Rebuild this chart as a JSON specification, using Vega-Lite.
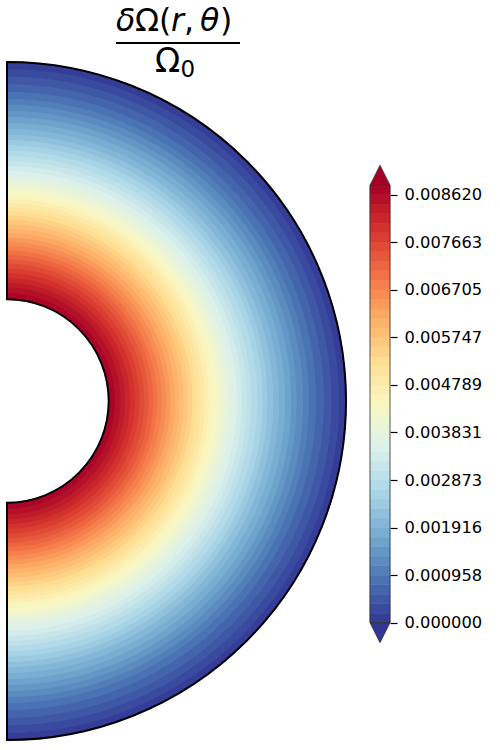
{
  "$schema": "https://vega.github.io/schema/vega-lite/v6.json",
  "padding": 0,
  "spacing": 20,
  "bounds": "flush",
  "background": "white",
  "config": {"view": {"stroke": null}},
  "datasets": {
    "bands": [
      {"lo": 0, "hi": 0.000191563, "v": 0.0000958, "ri": 0.9779, "ro": 1.0},
      {"lo": 0.000191563, "hi": 0.000383126, "v": 0.0002873, "ri": 0.9556, "ro": 0.9779},
      {"lo": 0.000383126, "hi": 0.000574689, "v": 0.0004789, "ri": 0.9330, "ro": 0.9556},
      {"lo": 0.000574689, "hi": 0.000766252, "v": 0.0006705, "ri": 0.9103, "ro": 0.9330},
      {"lo": 0.000766252, "hi": 0.000957815, "v": 0.0008620, "ri": 0.8892, "ro": 0.9103},
      {"lo": 0.000957815, "hi": 0.001149378, "v": 0.0010536, "ri": 0.8722, "ro": 0.8892},
      {"lo": 0.001149378, "hi": 0.001340941, "v": 0.0012452, "ri": 0.8545, "ro": 0.8722},
      {"lo": 0.001340941, "hi": 0.001532504, "v": 0.0014367, "ri": 0.8368, "ro": 0.8545},
      {"lo": 0.001532504, "hi": 0.001724067, "v": 0.0016283, "ri": 0.8189, "ro": 0.8368},
      {"lo": 0.001724067, "hi": 0.00191563, "v": 0.0018198, "ri": 0.8009, "ro": 0.8189},
      {"lo": 0.00191563, "hi": 0.002107193, "v": 0.0020114, "ri": 0.7839, "ro": 0.8009},
      {"lo": 0.002107193, "hi": 0.002298756, "v": 0.0022030, "ri": 0.7685, "ro": 0.7839},
      {"lo": 0.002298756, "hi": 0.002490319, "v": 0.0023945, "ri": 0.7529, "ro": 0.7685},
      {"lo": 0.002490319, "hi": 0.002681882, "v": 0.0025861, "ri": 0.7372, "ro": 0.7529},
      {"lo": 0.002681882, "hi": 0.002873445, "v": 0.0027776, "ri": 0.7215, "ro": 0.7372},
      {"lo": 0.002873445, "hi": 0.003065008, "v": 0.0029692, "ri": 0.7067, "ro": 0.7215},
      {"lo": 0.003065008, "hi": 0.003256571, "v": 0.0031608, "ri": 0.6920, "ro": 0.7067},
      {"lo": 0.003256571, "hi": 0.003448134, "v": 0.0033523, "ri": 0.6773, "ro": 0.6920},
      {"lo": 0.003448134, "hi": 0.003639697, "v": 0.0035439, "ri": 0.6625, "ro": 0.6773},
      {"lo": 0.003639697, "hi": 0.00383126, "v": 0.0037354, "ri": 0.6479, "ro": 0.6625},
      {"lo": 0.00383126, "hi": 0.004022823, "v": 0.0039270, "ri": 0.6342, "ro": 0.6479},
      {"lo": 0.004022823, "hi": 0.004214386, "v": 0.0041186, "ri": 0.6204, "ro": 0.6342},
      {"lo": 0.004214386, "hi": 0.004405949, "v": 0.0043101, "ri": 0.6066, "ro": 0.6204},
      {"lo": 0.004405949, "hi": 0.004597512, "v": 0.0045017, "ri": 0.5938, "ro": 0.6066},
      {"lo": 0.004597512, "hi": 0.004789075, "v": 0.0046932, "ri": 0.5820, "ro": 0.5938},
      {"lo": 0.004789075, "hi": 0.004980638, "v": 0.0048848, "ri": 0.5700, "ro": 0.5820},
      {"lo": 0.004980638, "hi": 0.005172201, "v": 0.0050764, "ri": 0.5581, "ro": 0.5700},
      {"lo": 0.005172201, "hi": 0.005363764, "v": 0.0052679, "ri": 0.5461, "ro": 0.5581},
      {"lo": 0.005363764, "hi": 0.005555327, "v": 0.0054595, "ri": 0.5333, "ro": 0.5461},
      {"lo": 0.005555327, "hi": 0.00574689, "v": 0.0056510, "ri": 0.5203, "ro": 0.5333},
      {"lo": 0.00574689, "hi": 0.005938453, "v": 0.0058426, "ri": 0.5072, "ro": 0.5203},
      {"lo": 0.005938453, "hi": 0.006130016, "v": 0.0060342, "ri": 0.4942, "ro": 0.5072},
      {"lo": 0.006130016, "hi": 0.006321579, "v": 0.0062257, "ri": 0.4811, "ro": 0.4942},
      {"lo": 0.006321579, "hi": 0.006513142, "v": 0.0064173, "ri": 0.4679, "ro": 0.4811},
      {"lo": 0.006513142, "hi": 0.006704705, "v": 0.0066088, "ri": 0.4552, "ro": 0.4679},
      {"lo": 0.006704705, "hi": 0.006896268, "v": 0.0068004, "ri": 0.4425, "ro": 0.4552},
      {"lo": 0.006896268, "hi": 0.007087831, "v": 0.0069920, "ri": 0.4297, "ro": 0.4425},
      {"lo": 0.007087831, "hi": 0.007279394, "v": 0.0071835, "ri": 0.4168, "ro": 0.4297},
      {"lo": 0.007279394, "hi": 0.007470957, "v": 0.0073751, "ri": 0.4040, "ro": 0.4168},
      {"lo": 0.007470957, "hi": 0.00766252, "v": 0.0075666, "ri": 0.3900, "ro": 0.4040},
      {"lo": 0.00766252, "hi": 0.007854083, "v": 0.0077582, "ri": 0.3760, "ro": 0.3900},
      {"lo": 0.007854083, "hi": 0.008045646, "v": 0.0079498, "ri": 0.3619, "ro": 0.3760},
      {"lo": 0.008045646, "hi": 0.008237209, "v": 0.0081413, "ri": 0.3478, "ro": 0.3619},
      {"lo": 0.008237209, "hi": 0.008428772, "v": 0.0083329, "ri": 0.3336, "ro": 0.3478},
      {"lo": 0.008428772, "hi": 0.008620335, "v": 0.0085244, "ri": 0.3170, "ro": 0.3336},
      {"lo": 0.008620335, "hi": 0.008811898, "v": 0.0087160, "ri": 0.300, "ro": 0.3170}
    ]
  },
  "hconcat": [
    {
      "width": 350,
      "height": 750,
      "layer": [
        {
          "data": {"name": "bands"},
          "mark": {"type": "arc", "strokeWidth": 1},
          "encoding": {
            "x": {"datum": 0, "type": "quantitative", "scale": {"domain": [-0.02065, 1.0118], "nice": false, "zero": false}, "axis": null},
            "y": {"datum": 0, "type": "quantitative", "scale": {"domain": [-1.0295, 1.18289], "nice": false, "zero": false}, "axis": null},
            "theta": {"datum": 0, "type": "quantitative", "scale": {"domain": [0, 360], "range": [0, 6.283185307]}},
            "theta2": {"datum": 180},
            "radius": {"field": "ri", "type": "quantitative", "scale": {"type": "linear", "domain": [0, 1], "range": [0, 339], "zero": true, "nice": false}},
            "radius2": {"field": "ro"},
            "color": {"field": "v", "type": "quantitative", "scale": {"type": "linear", "scheme": "redyellowblue", "reverse": true, "domain": [0, 0.0088119]}, "legend": null},
            "stroke": {"field": "v", "type": "quantitative", "scale": {"type": "linear", "scheme": "redyellowblue", "reverse": true, "domain": [0, 0.0088119]}, "legend": null}
          }
        },
        {
          "data": {"values": [{}]},
          "mark": {"type": "arc", "filled": false, "stroke": "black", "strokeWidth": 2},
          "encoding": {
            "x": {"datum": 0, "type": "quantitative", "scale": {"domain": [-0.02065, 1.0118], "nice": false, "zero": false}, "axis": null},
            "y": {"datum": 0, "type": "quantitative", "scale": {"domain": [-1.0295, 1.18289], "nice": false, "zero": false}, "axis": null},
            "theta": {"datum": 0, "type": "quantitative", "scale": {"domain": [0, 360], "range": [0, 6.283185307]}},
            "theta2": {"datum": 180},
            "radius": {"datum": 0.3, "type": "quantitative", "scale": {"type": "linear", "domain": [0, 1], "range": [0, 339], "zero": true, "nice": false}},
            "radius2": {"datum": 1.0}
          }
        },
        {
          "data": {"values": [{}]},
          "mark": {"type": "rule", "color": "black", "strokeWidth": 2},
          "encoding": {
            "x": {"datum": 0.3215, "type": "quantitative", "scale": {"domain": [-0.02065, 1.0118], "nice": false, "zero": false}, "axis": null},
            "x2": {"datum": 0.6873},
            "y": {"datum": 1.0560, "type": "quantitative", "scale": {"domain": [-1.0295, 1.18289], "nice": false, "zero": false}, "axis": null}
          }
        },
        {
          "data": {"values": [{"t": "δ", "px": 0.3215}, {"t": "r", "px": 0.4838}, {"t": "θ", "px": 0.5693}]},
          "mark": {"type": "text", "font": "DejaVu Sans", "fontSize": 31.5, "fontStyle": "italic", "align": "left", "baseline": "alphabetic", "color": "black"},
          "encoding": {
            "text": {"field": "t"},
            "x": {"field": "px", "type": "quantitative", "scale": {"domain": [-0.02065, 1.0118], "nice": false, "zero": false}, "axis": null},
            "y": {"datum": 1.0914, "type": "quantitative", "scale": {"domain": [-1.0295, 1.18289], "nice": false, "zero": false}, "axis": null}
          }
        },
        {
          "data": {"values": [{"t": "Ω(", "px": 0.3776}, {"t": ",", "px": 0.5221}, {"t": ")", "px": 0.6283}]},
          "mark": {"type": "text", "font": "DejaVu Sans", "fontSize": 31.5, "align": "left", "baseline": "alphabetic", "color": "black"},
          "encoding": {
            "text": {"field": "t"},
            "x": {"field": "px", "type": "quantitative", "scale": {"domain": [-0.02065, 1.0118], "nice": false, "zero": false}, "axis": null},
            "y": {"datum": 1.0914, "type": "quantitative", "scale": {"domain": [-1.0295, 1.18289], "nice": false, "zero": false}, "axis": null}
          }
        },
        {
          "data": {"values": [{}]},
          "mark": {"type": "text", "text": "Ω", "font": "DejaVu Sans", "fontSize": 33, "align": "left", "baseline": "alphabetic", "color": "black"},
          "encoding": {
            "x": {"datum": 0.4366, "type": "quantitative", "scale": {"domain": [-0.02065, 1.0118], "nice": false, "zero": false}, "axis": null},
            "y": {"datum": 0.9705, "type": "quantitative", "scale": {"domain": [-1.0295, 1.18289], "nice": false, "zero": false}, "axis": null}
          }
        },
        {
          "data": {"values": [{}]},
          "mark": {"type": "text", "text": "0", "font": "DejaVu Sans", "fontSize": 23, "align": "left", "baseline": "alphabetic", "color": "black"},
          "encoding": {
            "x": {"datum": 0.5118, "type": "quantitative", "scale": {"domain": [-0.02065, 1.0118], "nice": false, "zero": false}, "axis": null},
            "y": {"datum": 0.9558, "type": "quantitative", "scale": {"domain": [-1.0295, 1.18289], "nice": false, "zero": false}, "axis": null}
          }
        }
      ]
    },
    {
      "width": 20,
      "height": 750,
      "layer": [
        {
          "data": {"name": "bands"},
          "mark": {"type": "rect", "strokeWidth": 0.6},
          "encoding": {
            "x": {"datum": 0, "type": "quantitative", "scale": {"domain": [0, 1], "nice": false, "zero": false}, "axis": null},
            "x2": {"datum": 1},
            "y": {"field": "lo", "type": "quantitative", "scale": {"domain": [-0.0025639, 0.0125417], "nice": false, "zero": false},
              "axis": {"orient": "right", "values": [0, 0.000957815, 0.00191563, 0.002873445, 0.00383126, 0.004789075, 0.00574689, 0.006704705, 0.00766252, 0.008620335], "format": ".6f", "domain": false, "grid": false, "title": null, "tickSize": 7, "tickWidth": 1.2, "tickColor": "black", "labelFont": "DejaVu Sans", "labelFontSize": 16.3, "labelColor": "black", "labelPadding": 7, "labelBaseline": "middle", "labelFlush": false, "labelOverlap": false}},
            "y2": {"field": "hi"},
            "color": {"field": "v", "type": "quantitative", "scale": {"type": "linear", "scheme": "redyellowblue", "reverse": true, "domain": [0, 0.0088119]}, "legend": null},
            "stroke": {"field": "v", "type": "quantitative", "scale": {"type": "linear", "scheme": "redyellowblue", "reverse": true, "domain": [0, 0.0088119]}, "legend": null}
          }
        },
        {
          "data": {"values": [{}]},
          "mark": {"type": "rect", "filled": false, "stroke": "#333333", "strokeWidth": 0.8},
          "encoding": {
            "x": {"datum": 0, "type": "quantitative", "scale": {"domain": [0, 1], "nice": false, "zero": false}, "axis": null},
            "x2": {"datum": 1},
            "y": {"datum": 0, "type": "quantitative"},
            "y2": {"datum": 0.0088119}
          }
        },
        {
          "data": {"values": [{}]},
          "mark": {"type": "point", "shape": "M-1,0L0,-2L1,0Z", "size": 400, "filled": true, "opacity": 1, "stroke": "#333333", "strokeWidth": 0.8},
          "encoding": {
            "x": {"datum": 0.5, "type": "quantitative", "scale": {"domain": [0, 1], "nice": false, "zero": false}, "axis": null},
            "y": {"datum": 0.0088119, "type": "quantitative"},
            "color": {"datum": 0.0088119, "type": "quantitative", "scale": {"type": "linear", "scheme": "redyellowblue", "reverse": true, "domain": [0, 0.0088119]}, "legend": null}
          }
        },
        {
          "data": {"values": [{}]},
          "mark": {"type": "point", "shape": "M-1,0L0,2L1,0Z", "size": 400, "filled": true, "opacity": 1, "stroke": "#333333", "strokeWidth": 0.8},
          "encoding": {
            "x": {"datum": 0.5, "type": "quantitative", "scale": {"domain": [0, 1], "nice": false, "zero": false}, "axis": null},
            "y": {"datum": 0, "type": "quantitative"},
            "color": {"datum": 0, "type": "quantitative", "scale": {"type": "linear", "scheme": "redyellowblue", "reverse": true, "domain": [0, 0.0088119]}, "legend": null}
          }
        }
      ]
    }
  ]
}
